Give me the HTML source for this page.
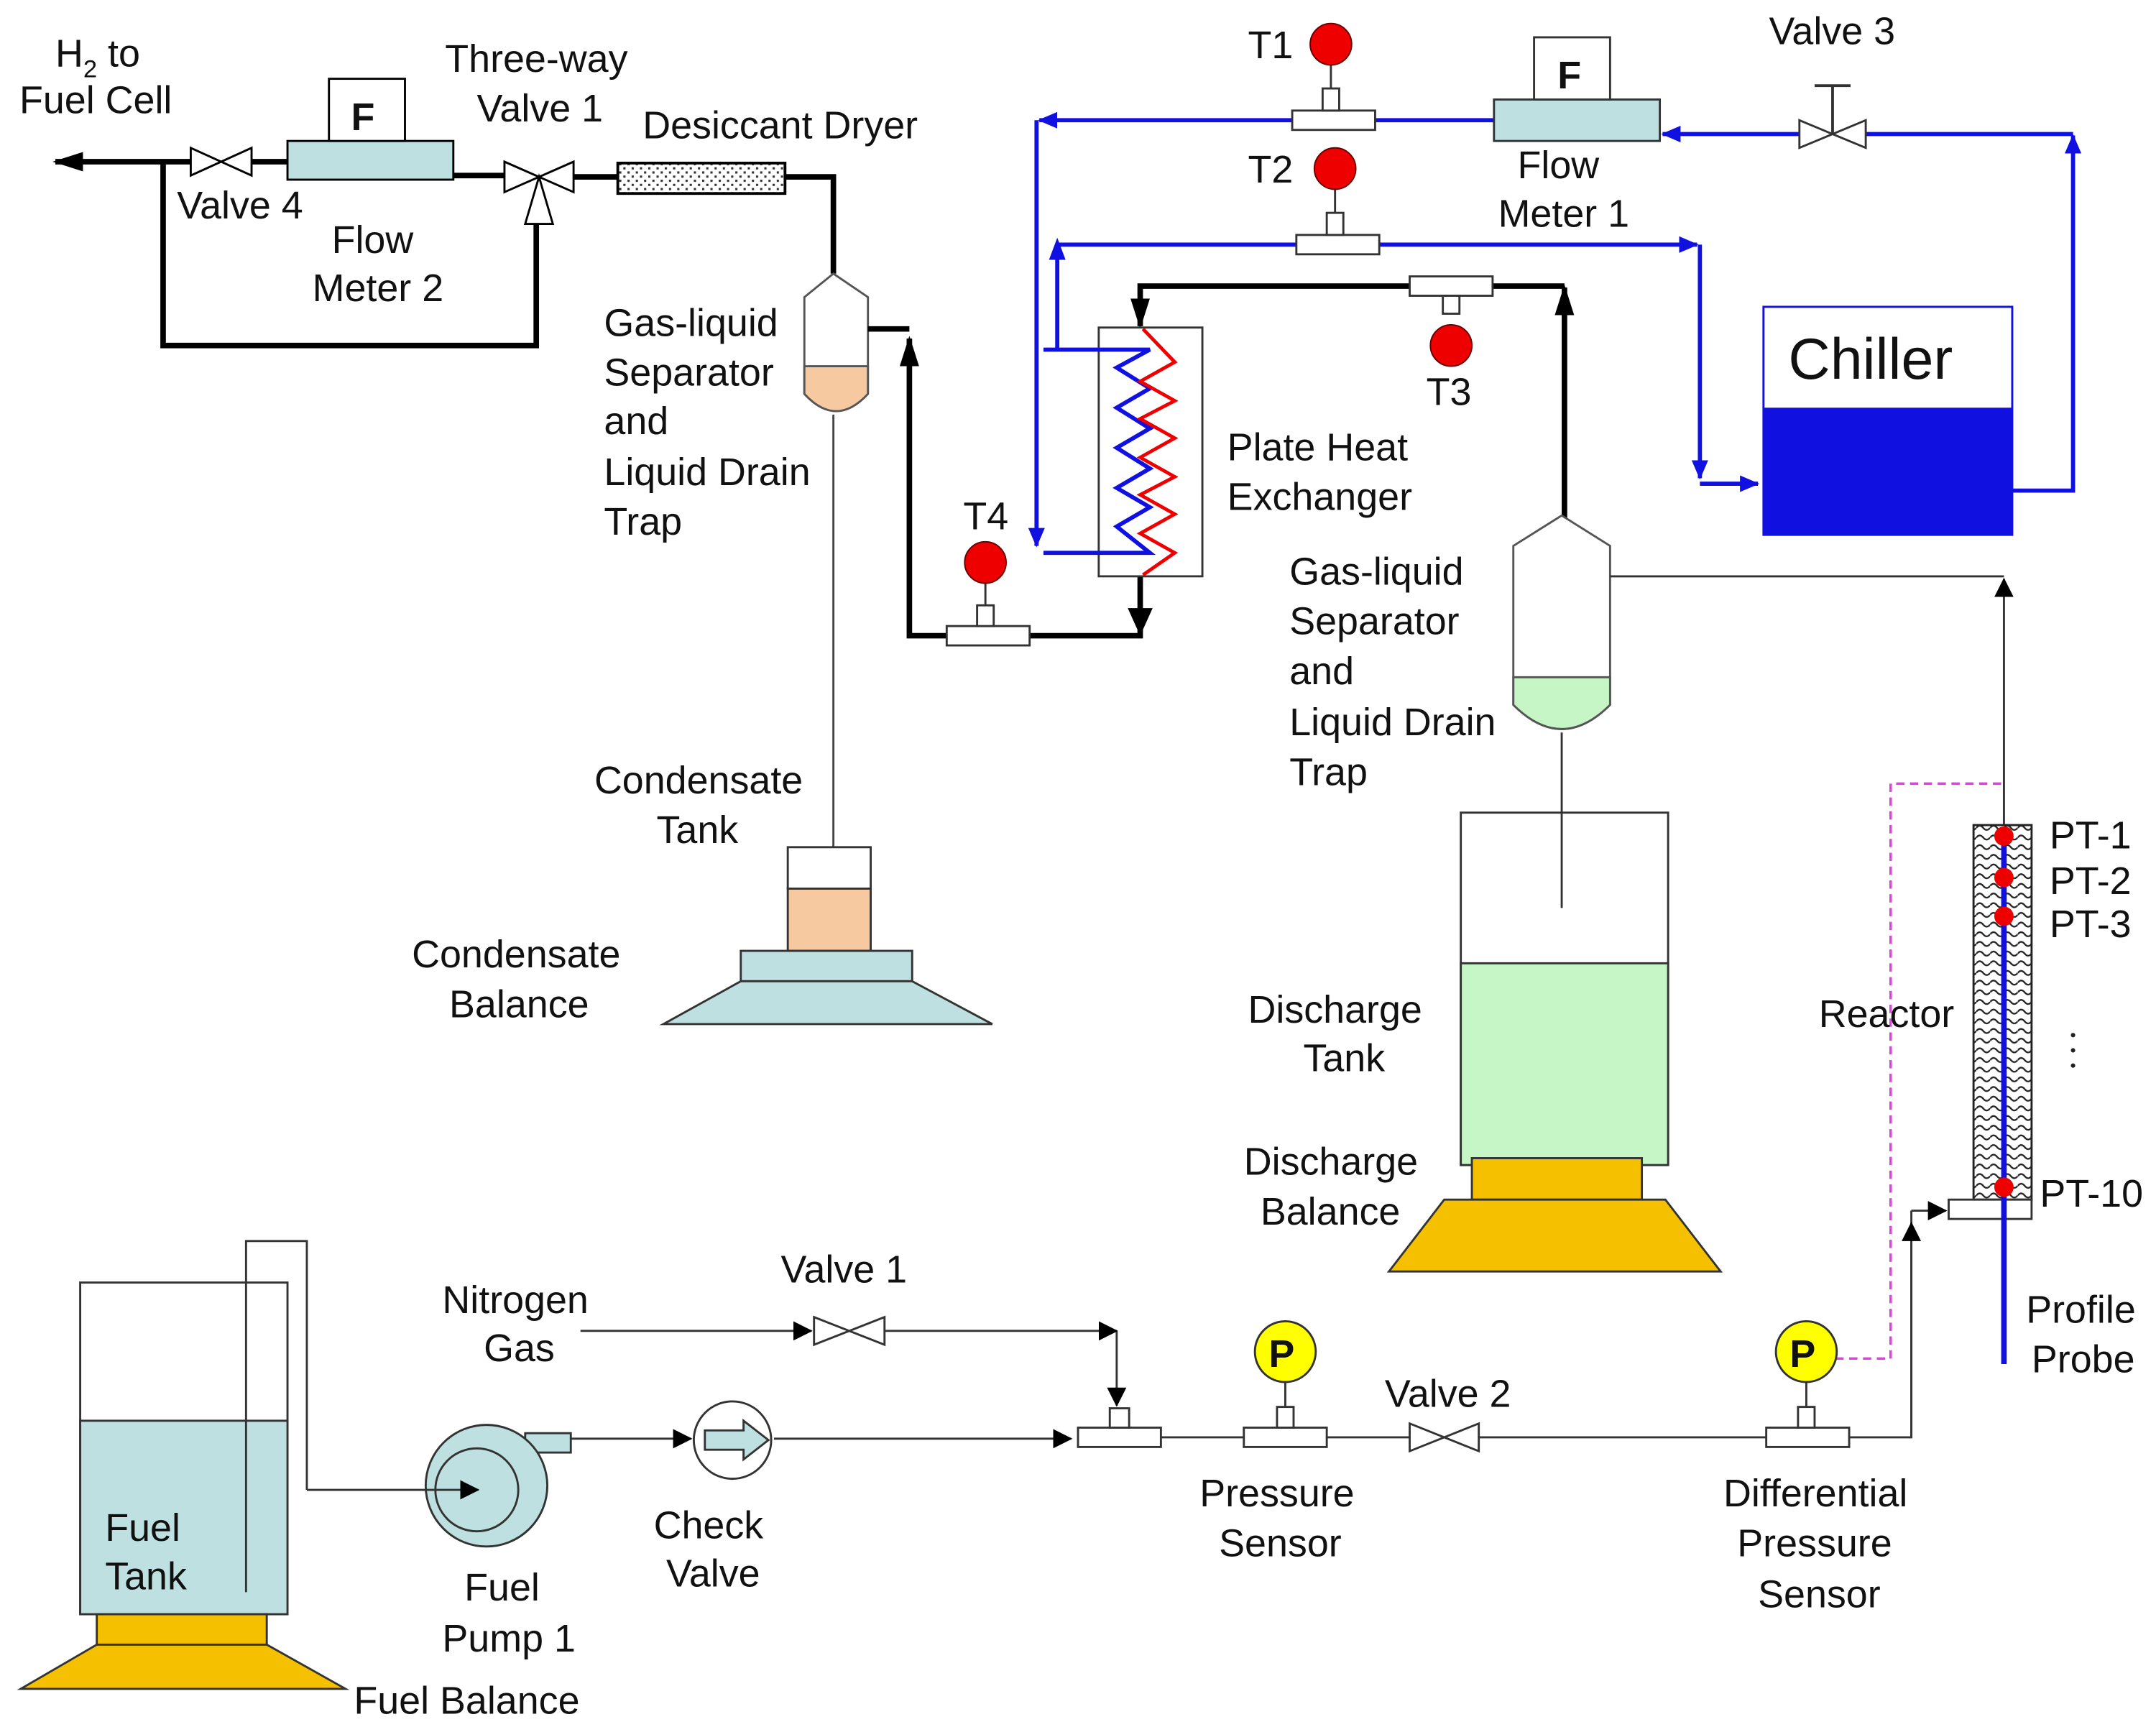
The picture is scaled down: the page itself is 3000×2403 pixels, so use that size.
<!DOCTYPE html>
<html><head><meta charset="utf-8"><style>
html,body{margin:0;padding:0;background:#fff}
svg{display:block}
text{font-family:"Liberation Sans",sans-serif;font-size:28px;fill:#111}
</style></head><body>
<svg width="3000" height="2403" viewBox="0 0 1560 1249.6" xmlns="http://www.w3.org/2000/svg">
<defs>
<marker id="ak2" markerWidth="14" markerHeight="14" refX="13" refY="7" orient="auto" markerUnits="userSpaceOnUse" viewBox="0 0 14 14"><path d="M0,0 L14,7 L0,14z" fill="#000"/></marker>
<marker id="ab" markerWidth="14" markerHeight="12" refX="13" refY="6" orient="auto" markerUnits="userSpaceOnUse" viewBox="0 0 14 12"><path d="M0,0 L14,6 L0,12z" fill="#1010e0"/></marker>
<marker id="as" markerWidth="22" markerHeight="14" refX="20" refY="7" orient="auto" markerUnits="userSpaceOnUse" viewBox="0 0 22 14"><path d="M0,0 L22,7 L0,14z" fill="#000"/></marker>
<pattern id="dots" width="6" height="6" patternUnits="userSpaceOnUse"><rect width="6" height="6" fill="#fff"/><rect x="1" y="1" width="1.6" height="1.6" fill="#333"/><rect x="4" y="4" width="1.6" height="1.6" fill="#333"/></pattern>
<pattern id="wave" width="10" height="7" patternUnits="userSpaceOnUse"><rect width="10" height="7" fill="#fff"/><path d="M0,4 Q2.5,1 5,4 T10,4" fill="none" stroke="#222" stroke-width="1.2"/></pattern>
</defs>

<!-- TOP-LEFT section -->
<g stroke="#000" stroke-width="4" fill="none">
<line x1="140" y1="117" x2="40" y2="117" marker-end="url(#as)"/>
<line x1="182" y1="117" x2="208" y2="117"/>
<line x1="328" y1="127" x2="372" y2="127"/>
<polyline points="118,117 118,250 388,250 388,160"/>
<line x1="415" y1="128" x2="447" y2="128"/>
<polyline points="568,128 603,128 603,198"/>
</g>
<text x="40" y="48">H<tspan font-size="18" dy="8">2</tspan><tspan dy="-8"> to</tspan></text>
<text x="14" y="82">Fuel Cell</text>
<path d="M138,107 L182,127 L182,107 L138,127z" fill="#fff" stroke="#000" stroke-width="1.5"/>
<text x="128" y="158">Valve 4</text>
<rect x="208" y="102" width="120" height="28" fill="#bfe0e0" stroke="#000" stroke-width="1.5"/>
<rect x="238" y="57" width="55" height="45" fill="#fff" stroke="#000" stroke-width="1.5"/>
<text x="254" y="94" font-weight="bold">F</text>
<text x="240" y="183">Flow</text>
<text x="226" y="218">Meter 2</text>
<path d="M365,117 L390,128 L365,139z M415,117 L390,128 L415,139z M380,162 L390,128 L400,162z" fill="#fff" stroke="#000" stroke-width="1.5"/>
<text x="322" y="52">Three-way</text>
<text x="345" y="88">Valve 1</text>
<rect x="447" y="118" width="121" height="22" fill="url(#dots)" stroke="#000" stroke-width="2"/>
<text x="465" y="100">Desiccant Dryer</text>
<!-- separator 1 -->
<path d="M582,215 L603,198 L628,215 L628,285 Q605,310 582,285z" fill="#fff" stroke="#555" stroke-width="1.5"/>
<path d="M582,265 L628,265 L628,285 Q605,310 582,285z" fill="#f7c9a0" stroke="#555" stroke-width="1.5"/>
<line x1="603" y1="300" x2="603" y2="613" stroke="#444" stroke-width="1.5"/>
<text x="437" y="243">Gas-liquid</text>
<text x="437" y="279">Separator</text>
<text x="437" y="314">and</text>
<text x="437" y="351">Liquid Drain</text>
<text x="437" y="387">Trap</text>
<!-- condensate tank -->
<rect x="570" y="613" width="60" height="30" fill="#fff" stroke="#333" stroke-width="1.5"/>
<rect x="570" y="643" width="60" height="45" fill="#f7c9a0" stroke="#333" stroke-width="1.5"/>
<rect x="536" y="688" width="124" height="22" fill="#bfe0e0" stroke="#333" stroke-width="1.5"/>
<path d="M536,710 L660,710 L718,741 L480,741z" fill="#bfe0e0" stroke="#333" stroke-width="1.5"/>
<text x="430" y="574">Condensate</text>
<text x="475" y="610">Tank</text>
<text x="298" y="700">Condensate</text>
<text x="325" y="736">Balance</text>

<!-- thick loop through HX -->
<g stroke="#000" stroke-width="4" fill="none">
<polyline points="628,238 658,238"/>
<polyline points="685,460 658,460 658,245" marker-end="url(#as)"/>
<polyline points="745,460 825,460 825,417"/>
<polyline points="1020,207 825,207 825,236" marker-end="url(#as)"/>
<polyline points="1080,207 1132,207"/>
<line x1="1132" y1="375" x2="1132" y2="208" marker-end="url(#as)"/>
</g>
<path d="M816,440 L834,440 L825,460z" fill="#000"/>
<!-- T4 -->
<rect x="685" y="453" width="60" height="14" fill="#fff" stroke="#333" stroke-width="1.5"/>
<rect x="707" y="438" width="12" height="15" fill="#fff" stroke="#333" stroke-width="1.5"/>
<line x1="713" y1="420" x2="713" y2="438" stroke="#333" stroke-width="1.5"/>
<circle cx="713" cy="407" r="15" fill="#e00" stroke="#600" stroke-width="1"/>
<text x="697" y="383">T4</text>
<!-- T3 -->
<rect x="1020" y="200" width="60" height="14" fill="#fff" stroke="#333" stroke-width="1.5"/>
<rect x="1044" y="214" width="12" height="13" fill="#fff" stroke="#333" stroke-width="1.5"/>
<circle cx="1050" cy="250" r="15" fill="#e00" stroke="#600" stroke-width="1"/>
<text x="1032" y="293">T3</text>

<!-- Heat exchanger -->
<rect x="795" y="237" width="75" height="180" fill="#fff" stroke="#333" stroke-width="1.5"/>
<polyline points="755,253 832,253 808,266 832,281 808,295 832,310 808,324 832,339 808,353 832,367 808,381 832,400 755,400" fill="none" stroke="#1010e0" stroke-width="3"/>
<polyline points="827,238 850,262 825,276 850,290 825,303 850,317 825,331 850,345 825,358 850,372 825,386 850,400 827,416" fill="none" stroke="#e00" stroke-width="2.5"/>
<text x="888" y="333">Plate Heat</text>
<text x="888" y="369">Exchanger</text>

<!-- Blue circuit -->
<g stroke="#1010e0" stroke-width="3" fill="none">
<polyline points="1456,355 1500,355 1500,98" marker-end="url(#ab)"/>
<polyline points="1500,97 1350,97"/>
<line x1="1302" y1="97" x2="1203" y2="97" marker-end="url(#ab)"/>
<line x1="1081" y1="87" x2="995" y2="87"/>
<line x1="935" y1="87" x2="752" y2="87" marker-end="url(#ab)"/>
<line x1="750" y1="87" x2="750" y2="395" marker-end="url(#ab)"/>
<polyline points="765,253 765,178" />
<polyline points="765,177 938,177"/>
<line x1="998" y1="177" x2="1228" y2="177" marker-end="url(#ab)"/>
<line x1="1230" y1="177" x2="1230" y2="346" marker-end="url(#ab)"/>
<line x1="1230" y1="350" x2="1272" y2="350" marker-end="url(#ab)"/>
</g>
<path d="M759,188 L765,172 L771,188z" fill="#1010e0"/>
<!-- T1 T2 -->
<rect x="935" y="80" width="60" height="14" fill="#fff" stroke="#333" stroke-width="1.5"/>
<rect x="957" y="64" width="12" height="16" fill="#fff" stroke="#333" stroke-width="1.5"/>
<line x1="963" y1="46" x2="963" y2="64" stroke="#333" stroke-width="1.5"/>
<circle cx="963" cy="32" r="15" fill="#e00" stroke="#600"/>
<text x="903" y="42">T1</text>
<rect x="938" y="170" width="60" height="14" fill="#fff" stroke="#333" stroke-width="1.5"/>
<rect x="960" y="154" width="12" height="16" fill="#fff" stroke="#333" stroke-width="1.5"/>
<line x1="966" y1="136" x2="966" y2="154" stroke="#333" stroke-width="1.5"/>
<circle cx="966" cy="122" r="15" fill="#e00" stroke="#600"/>
<text x="903" y="132">T2</text>
<!-- Flow meter 1 -->
<rect x="1081" y="72" width="120" height="30" fill="#bfe0e0" stroke="#333" stroke-width="1.5"/>
<rect x="1110" y="27" width="55" height="45" fill="#fff" stroke="#333" stroke-width="1.5"/>
<text x="1127" y="64" font-weight="bold">F</text>
<text x="1098" y="129">Flow</text>
<text x="1084" y="164">Meter 1</text>
<!-- Valve 3 -->
<path d="M1302,87 L1350,107 L1350,87 L1302,107z" fill="#fff" stroke="#333" stroke-width="1.5"/>
<line x1="1326" y1="97" x2="1326" y2="62" stroke="#333" stroke-width="2"/>
<line x1="1313" y1="62" x2="1339" y2="62" stroke="#333" stroke-width="2"/>
<text x="1280" y="32">Valve 3</text>
<!-- Chiller -->
<rect x="1276" y="222" width="180" height="165" fill="#fff" stroke="#1010e0" stroke-width="1.5"/>
<rect x="1276" y="295" width="180" height="92" fill="#1010e0"/>
<text x="1294" y="274" style="font-size:42px">Chiller</text>

<!-- Separator 2 -->
<path d="M1095,395 L1130,373 L1165,395 L1165,510 Q1130,545 1095,510z" fill="#fff" stroke="#555" stroke-width="1.5"/>
<path d="M1095,490 L1165,490 L1165,510 Q1130,545 1095,510z" fill="#c6f5c6" stroke="#555" stroke-width="1.5"/>
<line x1="1130" y1="530" x2="1130" y2="657" stroke="#333" stroke-width="1.5"/>
<polyline points="1165,417 1450,417" fill="none" stroke="#333" stroke-width="1.5"/>
<line x1="1450" y1="597" x2="1450" y2="419" stroke="#333" stroke-width="1.5" marker-end="url(#ak2)"/>
<text x="933" y="423">Gas-liquid</text>
<text x="933" y="459">Separator</text>
<text x="933" y="495">and</text>
<text x="933" y="532">Liquid Drain</text>
<text x="933" y="568">Trap</text>
<!-- Discharge tank -->
<rect x="1057" y="588" width="150" height="255" fill="#fff" stroke="#333" stroke-width="1.5"/>
<rect x="1057" y="697" width="150" height="146" fill="#c6f5c6" stroke="#333" stroke-width="1.5"/>
<line x1="1130" y1="588" x2="1130" y2="657" stroke="#333" stroke-width="1.5"/>
<rect x="1065" y="838" width="123" height="30" fill="#f5c000" stroke="#333" stroke-width="1.5"/>
<path d="M1045,868 L1205,868 L1245,920 L1005,920z" fill="#f5c000" stroke="#333" stroke-width="1.5"/>
<text x="903" y="740">Discharge</text>
<text x="943" y="775">Tank</text>
<text x="900" y="850">Discharge</text>
<text x="912" y="886">Balance</text>

<!-- Reactor -->
<polyline points="1328,983 1368,983 1368,567 1450,567" fill="none" stroke="#e040e0" stroke-width="1.8" stroke-dasharray="6,4"/>
<rect x="1428" y="597" width="42" height="271" fill="url(#wave)" stroke="#222" stroke-width="1.5"/>
<rect x="1410" y="868" width="60" height="14" fill="#fff" stroke="#333" stroke-width="1.5"/>
<line x1="1450" y1="600" x2="1450" y2="987" stroke="#1010e0" stroke-width="4"/>
<circle cx="1450" cy="605" r="7" fill="#e00"/>
<circle cx="1450" cy="635" r="7" fill="#e00"/>
<circle cx="1450" cy="663" r="7" fill="#e00"/>
<circle cx="1450" cy="859" r="7" fill="#e00"/>
<text x="1483" y="614">PT-1</text>
<text x="1483" y="647">PT-2</text>
<text x="1483" y="678">PT-3</text>
<text x="1476" y="873">PT-10</text>
<circle cx="1500" cy="749" r="1.6" fill="#222"/>
<circle cx="1500" cy="760" r="1.6" fill="#222"/>
<circle cx="1500" cy="771" r="1.6" fill="#222"/>
<text x="1316" y="743">Reactor</text>
<text x="1466" y="957">Profile</text>
<text x="1470" y="993">Probe</text>

<!-- Bottom section -->
<rect x="58" y="928" width="150" height="240" fill="#fff" stroke="#333" stroke-width="1.5"/>
<rect x="58" y="1028" width="150" height="140" fill="#bfe0e0" stroke="#333" stroke-width="1.5"/>
<rect x="70" y="1168" width="123" height="22" fill="#f5c000" stroke="#333" stroke-width="1.5"/>
<path d="M70,1190 L193,1190 L250,1222 L15,1222z" fill="#f5c000" stroke="#333" stroke-width="1.5"/>
<polyline points="178,1152 178,898 222,898 222,1078" fill="none" stroke="#333" stroke-width="1.5"/>
<text x="76" y="1115">Fuel</text>
<text x="76" y="1150">Tank</text>
<text x="256" y="1240">Fuel Balance</text>
<!-- pump -->
<rect x="380" y="1037" width="33" height="14" fill="#bfe0e0" stroke="#333" stroke-width="1.5"/>
<circle cx="352" cy="1075" r="44" fill="#bfe0e0" stroke="#333" stroke-width="1.5"/>
<circle cx="345" cy="1078" r="30" fill="none" stroke="#333" stroke-width="1.5"/>
<line x1="222" y1="1078" x2="346" y2="1078" stroke="#333" stroke-width="1.5" marker-end="url(#ak2)"/>
<text x="336" y="1158">Fuel</text>
<text x="320" y="1195">Pump 1</text>
<line x1="413" y1="1041" x2="500" y2="1041" stroke="#333" stroke-width="1.5" marker-end="url(#ak2)"/>
<!-- check valve -->
<circle cx="530" cy="1042" r="28" fill="#fff" stroke="#333" stroke-width="1.5"/>
<path d="M510,1035 L538,1035 L538,1028 L556,1042 L538,1056 L538,1049 L510,1049z" fill="#bfe0e0" stroke="#333" stroke-width="1.5"/>
<text x="473" y="1113">Check</text>
<text x="482" y="1148">Valve</text>
<line x1="560" y1="1041" x2="775" y2="1041" stroke="#333" stroke-width="1.5" marker-end="url(#ak2)"/>
<!-- nitrogen -->
<line x1="420" y1="963" x2="587" y2="963" stroke="#333" stroke-width="1.5" marker-end="url(#ak2)"/>
<path d="M589,953 L640,973 L640,953 L589,973z" fill="#fff" stroke="#333" stroke-width="1.5"/>
<polyline points="640,963 808,963" fill="none" stroke="#333" stroke-width="1.5"/>
<line x1="808" y1="963" x2="808" y2="1017" stroke="#333" stroke-width="1.5" marker-end="url(#ak2)"/>
<line x1="795" y1="963" x2="808" y2="963" stroke="#333" stroke-width="1.5" marker-end="url(#ak2)"/>
<text x="320" y="950">Nitrogen</text>
<text x="350" y="985">Gas</text>
<text x="565" y="928">Valve 1</text>
<!-- tee 1 -->
<rect x="780" y="1033" width="60" height="14" fill="#fff" stroke="#333" stroke-width="1.5"/>
<rect x="803" y="1019" width="14" height="14" fill="#fff" stroke="#333" stroke-width="1.5"/>
<line x1="840" y1="1040" x2="900" y2="1040" stroke="#333" stroke-width="1.5"/>
<!-- pressure sensor -->
<rect x="900" y="1033" width="60" height="14" fill="#fff" stroke="#333" stroke-width="1.5"/>
<rect x="924" y="1018" width="12" height="15" fill="#fff" stroke="#333" stroke-width="1.5"/>
<circle cx="930" cy="978" r="22" fill="#ffff00" stroke="#333" stroke-width="1.5"/>
<text x="918" y="989" font-weight="bold">P</text>
<line x1="930" y1="1000" x2="930" y2="1018" stroke="#333" stroke-width="1.5"/>
<text x="868" y="1090">Pressure</text>
<text x="882" y="1126">Sensor</text>
<line x1="960" y1="1040" x2="1020" y2="1040" stroke="#333" stroke-width="1.5"/>
<path d="M1020,1030 L1070,1050 L1070,1030 L1020,1050z" fill="#fff" stroke="#333" stroke-width="1.5"/>
<text x="1002" y="1018">Valve 2</text>
<line x1="1070" y1="1040" x2="1278" y2="1040" stroke="#333" stroke-width="1.5"/>
<!-- differential -->
<rect x="1278" y="1033" width="60" height="14" fill="#fff" stroke="#333" stroke-width="1.5"/>
<rect x="1301" y="1018" width="12" height="15" fill="#fff" stroke="#333" stroke-width="1.5"/>
<line x1="1307" y1="1000" x2="1307" y2="1018" stroke="#333" stroke-width="1.5"/>
<circle cx="1307" cy="978" r="22" fill="#ffff00" stroke="#333" stroke-width="1.5"/>
<text x="1295" y="989" font-weight="bold">P</text>
<text x="1247" y="1090">Differential</text>
<text x="1257" y="1126">Pressure</text>
<text x="1272" y="1163">Sensor</text>
<polyline points="1338,1040 1383,1040 1383,876" fill="none" stroke="#333" stroke-width="1.5"/>
<line x1="1383" y1="1040" x2="1383" y2="885" stroke="#333" stroke-width="1.5" marker-end="url(#ak2)"/>
<line x1="1383" y1="876" x2="1408" y2="876" stroke="#333" stroke-width="1.5" marker-end="url(#ak2)"/>
</svg>
</body></html>
